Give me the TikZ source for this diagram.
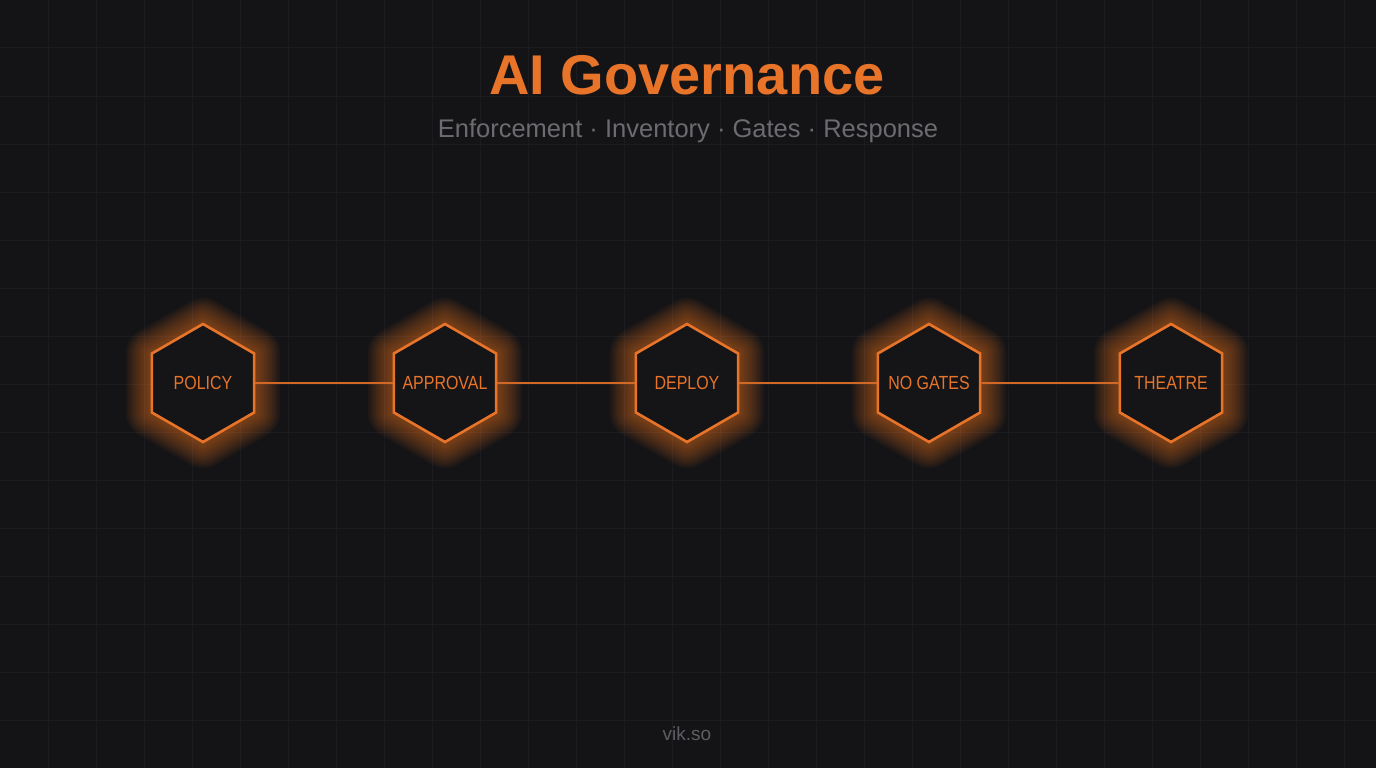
\documentclass[tikz,border=0pt]{standalone}
\usepackage{fontspec}
\setmainfont{Liberation Sans}
\newfontfamily\hexfont[FakeStretch=0.84]{Liberation Sans}
\usetikzlibrary{shapes.geometric, positioning}

\definecolor{bgdark}{HTML}{141417}
\definecolor{gridline}{HTML}{1C1C20}
\definecolor{govorange}{HTML}{E8742A}
\definecolor{hexfill}{HTML}{151518}
\definecolor{subgray}{HTML}{6C6C70}
\definecolor{footgray}{HTML}{5E5E62}

\tikzset{
  hexshape/.style={regular polygon, regular polygon sides=6, shape border rotate=30,
    minimum size=118pt, inner sep=0pt},
  hexnode/.style={hexshape, draw=govorange, line width=2.6pt, fill=hexfill,
    text=govorange, font=\hexfont\fontsize{19}{22}\selectfont},
  hexglow/.style={hexshape, draw=govorange, draw opacity=0.05, line join=round},
  link/.style={govorange!90!black, line width=1.8pt}
}

\begin{document}
\begin{tikzpicture}[x=1pt, y=-1pt]
  % Background and grid
  \fill[bgdark] (0,0) rectangle (1376,768);
  \useasboundingbox (0,0) rectangle (1376,768);
  \foreach \x in {48,96,...,1344}
    \draw[gridline, line width=1pt] (\x,0) -- (\x,768);
  \foreach \y in {48,96,...,720}
    \draw[gridline, line width=1pt] (0,\y) -- (1376,\y);

  % Title
  \node[anchor=base, text=govorange, font=\fontsize{56}{60}\selectfont\bfseries] (title) at (687,95) {AI Governance};
  \node[anchor=base, text=subgray, font=\fontsize{25.5}{30}\selectfont] (subtitle) at (688,137) {Enforcement · Inventory · Gates · Response};

  % Glow behind the hexagons
  \foreach \x in {203,445,687,929,1171} {
    \foreach \w in {4,8,...,52}
      \node[hexglow, line width=\w pt] at (\x,383) {};
  }

  % Hexagons
  \foreach \name/\x/\txt in {policy/203/POLICY, approval/445/APPROVAL, deploy/687/DEPLOY,
                             nogates/929/NO GATES, theatre/1171/THEATRE}
    \node[hexnode] (\name) at (\x,383) {\makebox[0pt]{\txt}};

  % Connectors
  \draw[link] (policy.east) -- (approval.west);
  \draw[link] (approval.east) -- (deploy.west);
  \draw[link] (deploy.east) -- (nogates.west);
  \draw[link] (nogates.east) -- (theatre.west);

  % Footer
  \node[anchor=base, text=footgray, font=\fontsize{19}{22}\selectfont] (footer) at (687,740) {vik.so};
\end{tikzpicture}
\end{document}
